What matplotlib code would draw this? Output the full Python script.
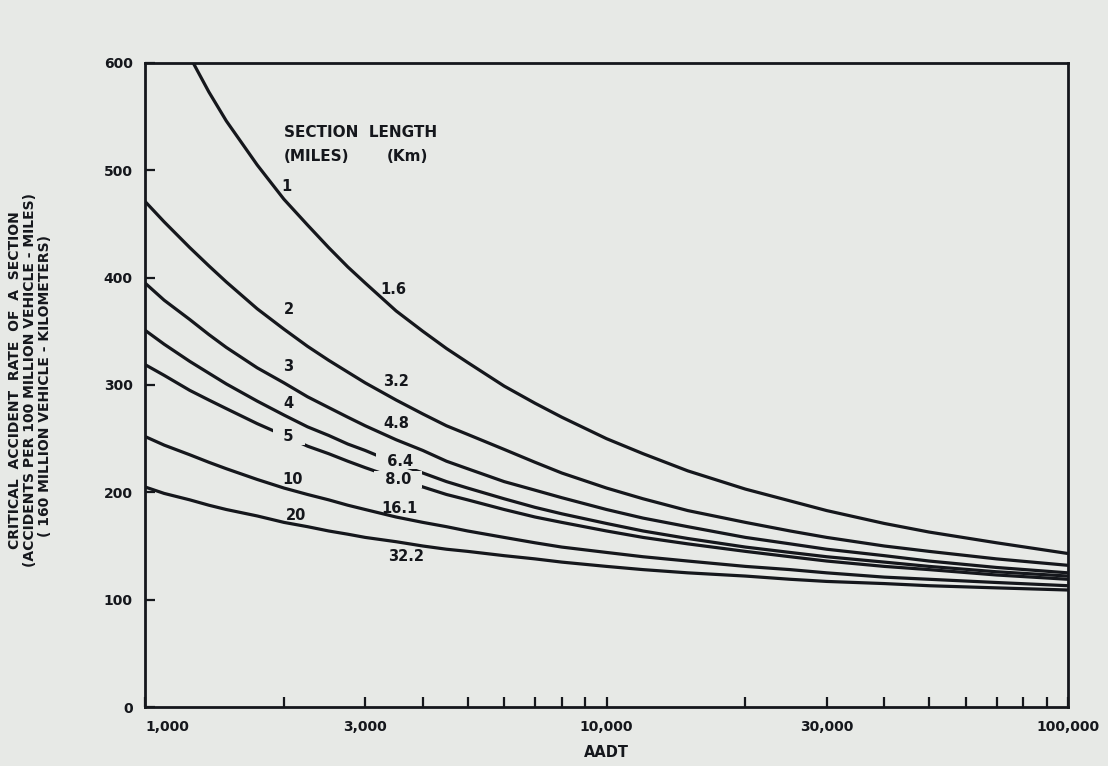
import numpy as np
import matplotlib
matplotlib.use('Agg')
import matplotlib.pyplot as plt
from matplotlib.ticker import NullFormatter

# AADT points where the curves were read
aadt = [1000, 1100, 1250, 1375, 1500, 1750, 2000, 2250, 2500, 2750, 3000,
        3500, 4000, 4500, 5000, 6000, 7000, 8000, 10000, 12000, 15000,
        20000, 25000, 30000, 40000, 50000, 70000, 100000]

# critical accident rate, one list per section length (miles)
rate_1mi = [680, 650, 606, 573, 546, 505, 473, 449, 428, 410, 395,
            369, 350, 334, 321, 299, 283, 270, 250, 236, 220,
            203, 192, 183, 171, 163, 153, 143]
rate_2mi = [471, 452, 428, 411, 396, 371, 352, 336, 323, 312, 302,
            286, 273, 262, 254, 240, 228, 218, 204, 194, 183,
            172, 164, 158, 150, 145, 138, 132]
rate_3mi = [395, 379, 361, 347, 335, 316, 302, 289, 279, 270, 262,
            249, 239, 229, 222, 210, 202, 195, 184, 176, 168,
            158, 152, 147, 141, 136, 130, 125]
rate_4mi = [351, 338, 322, 311, 301, 285, 272, 261, 253, 245, 239,
            227, 218, 210, 204, 194, 186, 180, 171, 164, 157,
            149, 144, 140, 135, 131, 126, 122]
rate_5mi = [319, 309, 295, 286, 278, 264, 253, 243, 236, 229, 223,
            213, 205, 198, 193, 184, 177, 172, 164, 158, 152,
            145, 140, 136, 131, 128, 123, 119]
rate_10mi = [252, 244, 235, 228, 222, 212, 204, 198, 193, 188, 184,
             177, 172, 168, 164, 158, 153, 149, 144, 140, 136,
             131, 128, 125, 121, 119, 116, 113]
rate_20mi = [205, 199, 193, 188, 184, 178, 172, 168, 164, 161, 158,
             154, 150, 147, 145, 141, 138, 135, 131, 128, 125,
             122, 119, 117, 115, 113, 111, 109]

curves = [rate_1mi, rate_2mi, rate_3mi, rate_4mi, rate_5mi, rate_10mi, rate_20mi]

# curve labels (miles on the left column, km on the right column)
mile_labels = ['1', '2', '3', '4', '5', '10', '20']
mile_x = [2029, 2049, 2039, 2049, 2049, 2090, 2122]
mile_y = [485, 370, 317, 283, 252, 212, 178]
km_labels = ['1.6', '3.2', '4.8', '6.4', '8.0', '16.1', '32.2']
km_x = [3447, 3505, 3505, 3564, 3535, 3564, 3685]
km_y = [389, 303, 264, 229, 212, 185, 140]

xticks_major = [1000, 3000, 10000, 30000, 100000]
xtick_labels = ['1,000', '3,000', '10,000', '30,000', '100,000']
xticks_minor = [2000, 4000, 5000, 6000, 7000, 8000, 9000,
                20000, 40000, 50000, 60000, 70000, 80000, 90000]
yticks = [0, 100, 200, 300, 400, 500, 600]

bg = '#e7e9e6'
ink = '#15171c'

plt.rcParams['font.family'] = ['DejaVu Sans']
plt.rcParams['font.weight'] = 'bold'

fig = plt.figure(figsize=(11.08, 7.66), dpi=100, facecolor=bg)
ax = fig.add_axes([0.1309, 0.077, 0.833, 0.8408], facecolor=bg)

for vals in curves:
    ax.plot(aadt, vals, color=ink, linewidth=2.3, solid_capstyle='butt')

ax.set_xscale('log')
ax.set_xlim(1000, 100000)
ax.set_ylim(0, 600)

ax.set_xticks(xticks_major, labels=xtick_labels)
ax.set_xticks(xticks_minor, minor=True)
ax.xaxis.set_minor_formatter(NullFormatter())
ax.set_yticks(yticks)

ax.tick_params(axis='both', which='both', direction='in', length=7, width=1.6,
               colors=ink, labelsize=10)
ax.tick_params(axis='x', which='both', pad=9)
ax.tick_params(axis='y', pad=9)
for lbl in ax.get_xticklabels() + ax.get_yticklabels():
    lbl.set_fontweight('bold')
ax.get_xticklabels()[0].set_horizontalalignment('left')

for sp in ax.spines.values():
    sp.set_linewidth(2.0)
    sp.set_color(ink)

ax.set_xlabel('AADT', fontsize=10.5, fontweight='bold', color=ink, labelpad=8)

# y-axis title, three lines
ylab_kw = dict(rotation=90, ha='center', va='center', fontsize=10,
               fontweight='bold', color=ink)
fig.text(0.0135, 0.504, 'CRITICAL  ACCIDENT  RATE  OF  A  SECTION', **ylab_kw)
fig.text(0.0271, 0.504, '(ACCIDENTS PER 100 MILLION VEHICLE - MILES)', **ylab_kw)
fig.text(0.0404, 0.496, '( 160 MILLION VEHICLE - KILOMETERS)', **ylab_kw)

# legend header
ax.text(2000, 535, 'SECTION  LENGTH', ha='left', va='center', fontsize=11,
        fontweight='bold', color=ink)
ax.text(2000, 513, '(MILES)', ha='left', va='center', fontsize=11,
        fontweight='bold', color=ink)
ax.text(3333, 513, '(Km)', ha='left', va='center', fontsize=11,
        fontweight='bold', color=ink)

# labels that break the line they sit on
masked = {'5', '6.4', '8.0'}
for lab, x, y in zip(mile_labels + km_labels, mile_x + km_x, mile_y + km_y):
    if lab in masked:
        ax.text(x, y, '  ' + lab + '  ', ha='center', va='center', fontsize=10.5,
                fontweight='bold', color=ink, zorder=5,
                bbox=dict(facecolor=bg, edgecolor='none', pad=0.5))
    else:
        ax.text(x, y, lab, ha='center', va='center', fontsize=10.5,
                fontweight='bold', color=ink, zorder=5)

fig.savefig('out.png', dpi=100, facecolor=bg)
